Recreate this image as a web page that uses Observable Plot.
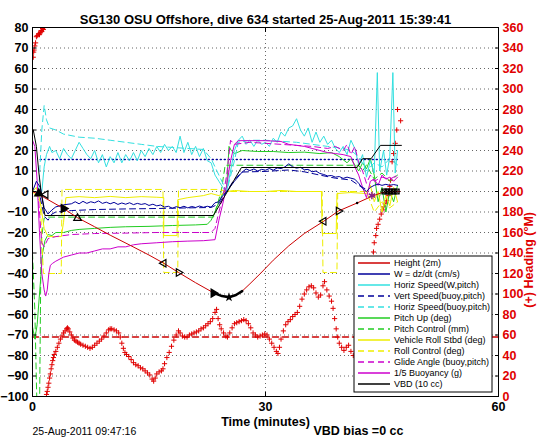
<!DOCTYPE html>
<html>
<head>
<meta charset="utf-8">
<script src="https://cdn.jsdelivr.net/npm/d3@7"></script>
<script src="https://cdn.jsdelivr.net/npm/@observablehq/plot@0.6"></script>
<style>
  html, body { margin: 0; padding: 0; background: white; }
  #chart { width: 546px; height: 442px; }
</style>
</head>
<body>
<div id="chart"></div>
<script>
// ---------- tick labels ----------
const leftTicks = [-100,-90,-80,-70,-60,-50,-40,-30,-20,-10,0,10,20,30,40,50,60,70,80];
const headingTicks = [0,20,40,60,80,100,120,140,160,180,200,220,240,260,280,300,320,340,360];
const timeTicks = [0,30,60];

// ---------- text ----------
const titleText = "SG130 OSU Offshore, dive 634 started 25-Aug-2011 15:39:41";
const xLabel = "Time (minutes)";
const yRightLabel = "(+) Heading (°M)";
const dateText = "25-Aug-2011 09:47:16";
const vbdBiasText = "VBD bias =0 cc";

// ---------- series [time (min), value] ----------
const height = [[0,0],[0.6,-1],[2,-4],[4,-8.3],[5.8,-12.8],[8,-17.2],[10,-21.3],[12.6,-26.3],[15,-31],[16.9,-35],[18.8,-39.5],[21,-44.5],[23.3,-49.4],[24.4,-51],[25.3,-51.6],[26.2,-50.5],[27,-48.6],[28,-45],[29.4,-39.8],[31,-33.5],[33,-26.5],[35,-20.5],[37.5,-14.5],[39.4,-9.5],[41.8,-5.6],[43.6,-2.5],[45,-0.5],[47.3,0]];

const wSpeed = [[0,0],[0.5,5],[1,2],[1.5,-8],[2,-11],[2.5,-9],[3,-7.5],[4,-6.5],[5,-6],[5.5,-5],[6,-6],[6.5,-4.8],[7,-5.8],[7.5,-5],[8,-5.5],[8.5,-4.6],[9,-5.8],[9.5,-5.2],[10,-6],[10.5,-5.3],[11,-6.3],[11.5,-5.6],[12,-6.2],[12.5,-5.5],[13,-6.4],[13.5,-5.8],[14,-6.3],[14.5,-5.9],[15,-6.8],[15.5,-6.2],[16,-7],[16.5,-6.6],[17,-7.6],[17.5,-7.2],[18,-8.2],[18.5,-7.4],[19,-7.9],[19.5,-7.2],[20,-8],[20.5,-7.3],[21,-7.8],[21.5,-7.1],[22,-7.7],[22.5,-7.2],[23,-7.6],[23.5,-5.5],[24,-5],[24.5,-2],[25,0],[26,5],[27,9.5],[27.5,11],[28,10.2],[28.5,11],[29,10],[29.5,10.8],[30,10.4],[30.5,11.2],[31,10.4],[31.5,11.5],[32,11.2],[32.5,12],[33,13.5],[33.5,12],[34,11.4],[34.5,11.8],[35,10.6],[35.5,10.8],[36,9.6],[36.5,10],[37,8.8],[37.5,8.3],[38,7.6],[38.5,7.8],[39,7],[39.5,7.3],[40,6.4],[40.5,7],[41,6.5],[41.5,6],[42,4],[42.5,1.5],[43,0],[43.5,2],[44,3],[44.5,3.6],[45,3],[45.5,3.5],[46,3],[46.5,3.4],[47,3]];

const vertSpeed = [[1,-3],[1.5,-12],[2,-14],[2.5,-11],[3,-10],[5,-9.3],[8,-8.8],[12,-8.5],[16,-8.3],[20,-8],[23,-7.8],[24,-6],[25,0],[26,6],[27,9.5],[30,9.8],[33,10.5],[35,9.6],[37,8],[39,6.5],[41,5.6],[42,3],[43,1]];

const horizSpeedW = [[1.2,0],[1.5,12],[1.8,18],[2.2,22],[2.5,19],[3,20],[3.5,16],[4,21],[4.5,18],[5,16],[5.5,20],[6,24],[6.5,21],[7,18],[7.5,16],[8,20],[8.5,14],[9,18],[9.5,12],[10,17],[10.5,14],[11,19],[11.5,14],[12,18],[12.5,15],[13,19],[13.5,15],[14,20],[14.5,17],[15,21],[15.5,18],[16,22],[16.5,19],[17,23],[17.5,20],[18,22],[18.5,19],[19,27],[19.5,19],[20,24],[20.5,18],[21,22],[21.5,17],[22,21],[22.5,15],[23,14],[23.5,8],[24,5],[24.5,2],[25,0],[25.5,10],[26,20],[26.5,25],[27,27],[27.5,23],[28,25],[28.5,22],[29,25],[29.5,23],[30,24],[30.5,22],[31,26],[31.5,24],[32,29],[32.5,27],[33,31],[33.5,32],[34,35.5],[34.5,30],[35,27],[35.5,31],[36,24],[36.5,29],[37,24],[37.5,27],[38,23],[38.5,25],[39,21],[39.5,19],[40,22],[40.5,18],[41,25],[41.5,21],[42,13],[42.5,18],[43,7],[43.5,15],[44,9],[44.4,58],[44.7,10],[45.2,20],[45.6,8],[46,17],[46.4,58],[46.7,9],[47,20]];

const horizSpeedBuoy = [[0.8,0],[1.2,30],[1.5,42],[1.8,35],[2.2,31],[3,30],[4,28],[6,26.5],[8,26],[10,25],[12,24],[14,23],[16,22],[18,21.5],[20,21],[22,20.5],[23,16],[24,8],[25,0],[26,15],[26.5,24],[28,25],[30,25],[32,24.5],[34,24],[36,23],[38,22],[40,21],[41,20],[42,17],[43,10],[44,14],[45,12],[46,16],[47,13]];

const pitchUp = [[0,-66],[0.3,-72],[0.6,-65],[1,-45],[1.3,-30],[1.6,-24],[2,-21],[2.5,-21.5],[3,-20],[4,-20],[5,-19],[6,-18.5],[8,-18],[10,-17.5],[12,-17.2],[15,-17],[18,-16.6],[21,-16.3],[22.5,-16],[23,-14],[23.5,-10],[24,-5],[24.5,-1],[25,2],[25.3,22],[25.6,20],[26,18.5],[27,20],[29,19.5],[31,19.5],[33,19],[35,19.2],[37,18.5],[38.5,19],[39.5,17],[40.5,14],[41,16],[42,10],[42.5,14],[43,11],[43.5,16],[44,8],[44.5,-5],[45,2],[45.5,-10],[46,0],[46.5,-5],[47,3]];

const pitchControl = [[0,-30],[0.3,-58],[0.6,-110],[0.9,-110],[1.1,-25],[1.5,-13],[2,-12.5],[23.3,-12.5],[24.3,0],[24.8,12.8],[42,12.8],[42.5,10],[43,13],[44,6],[45,9],[46,5],[47,8]];

const vehicleRoll = [[0,0],[0.5,2],[1,-5],[1.5,-18],[2,-22],[3.7,-22],[4,-15],[4.3,-3],[6,-2.5],[8,-3],[10,-2.4],[12,-3],[14,-2.5],[16,-2.8],[16.9,-3],[16.9,-21.5],[18.6,-21.5],[18.7,-4],[20,-3],[22,-2],[23,-1],[24,-2],[25,0],[26,0.5],[28,0],[30,0],[32,0.5],[34,0],[36,0],[37.2,0],[37.3,-20.5],[39.1,-20.5],[39.2,-1],[41,-0.5],[43,-1],[43.5,3],[44,-5],[44.5,0],[45,-10],[45.5,-2],[46,-7],[46.5,2],[47,-5]];

const rollControl = [[0,0],[1,-5],[1.4,-40],[3.7,-40],[3.8,1],[16.8,1],[16.9,-39.5],[18.7,-39.5],[18.8,1],[24,1],[25,0],[37.3,0],[37.4,-39.5],[39.2,-39.5],[39.3,0],[43,0],[43.5,-5],[44,-10],[45,-5],[46,-8],[47,-5]];

const glideAngle = [[0.8,-5],[1.2,-25],[1.5,-27],[2,-23],[3,-22],[5,-21],[8,-20.5],[12,-20.3],[16,-20],[20,-20],[23,-20],[23.5,-18],[24,-10],[24.5,-3],[25,8],[25.5,25],[26,23],[28,24],[30,23.5],[32,23],[34,22.5],[36,22],[38,21],[39,22],[40,20],[40.5,23],[41,18],[41.5,22],[42,14],[42.5,10],[43,4],[43.5,8],[44,5],[45,7],[46,6],[47,8]];

const buoyancy = [[0,25],[0.3,22],[0.6,5],[0.9,-20],[1.2,-40],[1.5,-48],[1.7,-51],[1.9,-48],[2.1,-40],[2.3,-36],[2.6,-35],[3,-34],[4,-32],[5,-31],[6,-30],[7,-30],[8,-29],[9,-28],[10,-28],[11,-27],[12,-27],[13,-26],[14,-25.5],[16,-25],[18,-24.5],[20,-24.2],[22,-24],[23.5,-23.5],[24,-14],[24.5,-6],[25,3],[25.5,15],[26,23],[26.5,24.8],[28,24.8],[30,24.8],[32,24.4],[33,23],[34,22.5],[35,22],[36,21],[37,20],[38,19],[39,18.5],[40,18],[41,17],[41.5,12],[42,8],[42.5,2],[43,-3],[43.5,5],[44,6],[44.5,3],[45,8],[45.5,6],[46,7],[46.5,5],[47,7]];

const vbd = [[0.1,30],[0.5,22],[0.8,10],[1.1,0],[1.6,-11.7],[23.3,-11.7],[26.9,11.7],[41.8,11.7],[42.5,16],[43.6,16],[44.8,22.5],[47.5,22.5]];

const stallLine = [[1,15.6],[47,15.6]];
const headingTarget = [[0,58],[60,58]];

// heading (degrees magnetic) on right axis
const heading = [[0.1,331],[0.15,336],[0.2,338],[0.3,342],[0.4,345],[0.5,351],[0.6,352],[0.8,354],[0.9,353],[1.0,355],[1.1,357],[1.2,356],[1.3,359],[1.4,358],[1.5,360],
[1.8,2],[1.9,5],[2.0,9],[2.1,13],[2.2,18],[2.3,22],[2.4,27],[2.5,31],[2.6,35],[2.7,38],[2.8,41],[3.0,44],[3.2,48],[3.4,52],[3.6,56],[3.8,59],[4.0,62],[4.2,64],[4.4,66],[4.5,67],[4.6,66],[4.8,63],[5.0,60],[5.2,57],[5.4,55],[5.6,54],[5.8,53],[6.0,52],[6.2,51],[6.5,50],[6.8,49],[7.1,48],[7.4,47],[7.7,48],[8.0,50],[8.3,52],[8.6,54],[8.9,56],[9.2,59],[9.5,62],[9.8,65],[10.0,66],[10.2,66],[10.5,65],[10.8,64],[11.1,62],[11.3,58],[11.5,52],[11.7,47],[11.9,43],[12.1,41],[12.4,39],[12.7,36],[13.0,33],[13.3,31],[13.6,30],[13.9,28],[14.2,27],[14.5,25],[14.8,23],[15.1,21],[15.4,17],[15.6,15],[15.8,18],[16.0,22],[16.3,24],[16.6,25],[16.8,27],[17.0,32],[17.3,38],[17.6,43],[17.9,49],[18.2,55],[18.5,60],[18.8,64],[19.0,62],[19.3,59],[19.6,58],[19.9,58],[20.2,60],[20.5,61],[20.8,62],[21.1,63],[21.4,64],[21.7,66],[22.0,67],[22.3,69],[22.6,71],[22.9,73],[23.2,76],[23.5,82],[23.7,85],[23.9,76],[24.1,70],[24.3,66],[24.6,62],[24.9,59],[25.1,58],[25.4,62],[25.7,67],[26.0,71],[26.3,72],[26.6,73],[26.9,74],[27.2,75],[27.5,74],[27.8,71],[28.1,67],[28.4,62],[28.7,60],[29.0,58],[29.3,59],[29.6,60],[29.9,61],[30.2,60],[30.5,56],[30.8,52],[31.1,48],[31.4,44],[31.6,42],[31.8,48],[32.0,56],[32.3,64],[32.6,70],[32.9,73],[33.2,75],[33.5,78],[33.8,80],[34.1,82],[34.4,88],[34.7,95],[35.0,100],[35.3,104],[35.6,107],[35.9,108],[36.2,106],[36.5,101],[36.8,97],[37.1,99],[37.4,108],[37.6,112],[37.9,104],[38.2,98],[38.5,93],[38.7,86],[38.9,76],[39.1,66],[39.3,58],[39.5,52],[39.8,48],[40.1,45],[40.4,48],[40.7,50],[41.0,44],[41.3,40],
[42.0,60],[42.5,80],[43.0,100],[43.5,125],[43.9,141],[44.0,150],[44.2,157],[44.3,164],[44.5,168],[44.7,173],[44.9,178],[45.1,182],[45.2,185],[45.4,188],[45.6,191],[45.8,196],[46.0,205],[46.1,211],[46.3,229],[46.5,237],[46.7,247],[46.9,260],[47.0,280],[47.4,269]];

// profile markers on the height trace
const markersFilled = [[0.8,-1,0],[4.0,-8.3,90],[23.3,-49.6,90]];
const markersHollow = [[1.7,-1.5,-90],[5.8,-13,0],[16.9,-35,-90],[18.8,-39.5,90],[37.5,-14.5,-90],[39.4,-9.5,90]];
const bottomStar = [[25.3,-51.6]];
const apogeeStar = [[43.7,-2]];
const surfaceMarks = [[45.3,0],[45.7,0],[46.1,0],[46.5,0],[46.9,0]];
const thickSegments = [[23.2,27.0],[40.8,41.8]];

// ---------- legend ----------
const legendLabels = ["Height (2m)","W = dz/dt (cm/s)","Horiz Speed(W,pitch)","Vert Speed(buoy,pitch)","Horiz Speed(buoy,pitch)","Pitch Up (deg)","Pitch Control (mm)","Vehicle Roll Stbd (deg)","Roll Control (deg)","Glide Angle (buoy,pitch)","1/5 Buoyancy (g)","VBD (10 cc)"];

const C = {
  red: "#cc0000", dot: "#e00000", blue: "#00009a", cyan: "#33e0e0", green: "#22cc22",
  yellow: "#eeee00", magenta: "#cc00cc", black: "#000000"
};
const legendColors = [C.red, C.blue, C.cyan, C.blue, C.cyan, C.green, C.green, C.yellow, C.yellow, C.magenta, C.magenta, C.black];
const legendDashed = [false,false,false,true,true,false,true,false,true,true,false,false];
const DASH = "6,4";

const hy = d => d[1] / 2 - 100;   // heading -> left-axis coordinate
const X = d => d[0], Y = d => d[1];

function ln(data, color, dashed) {
  return Plot.line(data, {x: X, y: Y, stroke: color, strokeWidth: 1, strokeDasharray: dashed ? DASH : null, clip: true, curve: "linear"});
}

const plot = Plot.plot({
  width: 546, height: 442,
  marginLeft: 32, marginRight: 48, marginTop: 27, marginBottom: 46,
  x: {domain: [0, 60]},
  y: {domain: [-100, 80]},
  style: {fontFamily: "'Liberation Sans', Arial, Helvetica, sans-serif", fontSize: "12.5px", fontWeight: "bold", background: "white", overflow: "visible"},
  marks: [
    Plot.gridY(leftTicks.filter(v => v > -100 && v < 80), {stroke: "#666", strokeOpacity: 1, strokeDasharray: "1,3"}),
    Plot.gridX([30], {stroke: "#666", strokeOpacity: 1, strokeDasharray: "1,3"}),
    Plot.line(stallLine, {x: X, y: Y, stroke: C.blue, strokeDasharray: "1,3"}),
    Plot.line(headingTarget, {x: X, y: hy, stroke: C.red, strokeDasharray: DASH}),
    Plot.dot(heading, {x: X, y: hy, symbol: "plus", r: 1.8, stroke: C.dot, strokeWidth: 1, clip: true}),
    ln(pitchControl, C.green, true),
    ln(pitchUp, C.green, false),
    ln(rollControl, C.yellow, true),
    ln(vehicleRoll, C.yellow, false),
    ln(horizSpeedBuoy, C.cyan, true),
    ln(horizSpeedW, C.cyan, false),
    ln(glideAngle, C.magenta, true),
    ln(buoyancy, C.magenta, false),
    ln(vertSpeed, C.blue, true),
    ln(wSpeed, C.blue, false),
    ln(vbd, C.black, false),
    ln(height, C.red, false),
    ...thickSegments.map(([a, b]) => Plot.line(height.filter(d => d[0] >= a && d[0] <= b), {x: X, y: Y, stroke: "black", strokeWidth: 2.5})),
    Plot.dot(markersFilled, {x: X, y: Y, rotate: d => d[2], symbol: "triangle", r: 2.8, fill: "black", stroke: "black"}),
    Plot.dot(markersHollow, {x: X, y: Y, rotate: d => d[2], symbol: "triangle", r: 2.8, fill: "none", stroke: "black", strokeWidth: 1.2}),
    Plot.dot(bottomStar, {x: X, y: Y, symbol: "star", r: 3, fill: "black"}),
    Plot.dot(apogeeStar, {x: X, y: Y, symbol: "asterisk", r: 3.5, stroke: "#882288", strokeWidth: 1.5}),
    Plot.dot(surfaceMarks, {x: X, y: Y, symbol: "square", r: 2.6, fill: "none", stroke: "black", strokeWidth: 1.3}),
    Plot.dot(surfaceMarks, {x: X, y: Y, symbol: "times", r: 2, stroke: "black", strokeWidth: 1}),
    Plot.frame({stroke: "black"}),
    Plot.axisY(leftTicks, {anchor: "left", tickSize: -4, tickPadding: 8, label: null, fill: "black"}),
    Plot.axisY(headingTicks.map(h => h / 2 - 100), {anchor: "right", tickSize: -4, tickPadding: 8, label: null, tickFormat: v => String(Math.round((v + 100) * 2)), fill: "#e00000", stroke: "black"}),
    Plot.axisX(timeTicks, {anchor: "bottom", tickSize: -4, tickPadding: 10, label: null}),
    Plot.axisX(timeTicks, {anchor: "top", tickSize: -4, tickFormat: () => "", label: null}),
    Plot.text([titleText], {frameAnchor: "top", dy: -13, text: d => d, fontSize: 13, fontWeight: "bold"}),
    Plot.text([xLabel], {frameAnchor: "bottom", dy: 29, text: d => d, fontSize: 12.5, fontWeight: "bold"}),
    Plot.text([yRightLabel], {frameAnchor: "right", dx: 30, rotate: -90, text: d => d, fontSize: 12.5, fontWeight: "bold", fill: "#e00000"}),
    Plot.text([dateText], {frameAnchor: "bottom-left", dy: 38, textAnchor: "start", text: d => d, fontSize: 10.5, fontWeight: "normal"}),
    Plot.text([vbdBiasText], {frameAnchor: "bottom", dx: 48, dy: 38, textAnchor: "start", text: d => d, fontSize: 12.5, fontWeight: "bold"})
  ]
});

// legend box drawn into the same SVG
const svg = d3.select(plot);
const L = {x: 354, y: 256, w: 138, h: 136, row: 11, top: 7, lx1: 4, lx2: 36, tx: 40};
const g = svg.append("g").attr("font-family", "'Liberation Sans', Arial, sans-serif").attr("font-size", 9).attr("font-weight", "normal").attr("text-anchor", "start");
g.append("rect").attr("x", L.x).attr("y", L.y).attr("width", L.w).attr("height", L.h).attr("fill", "white").attr("stroke", "black").attr("stroke-width", 1);
legendLabels.forEach((lab, i) => {
  const yy = L.y + L.top + i * L.row;
  g.append("line").attr("x1", L.x + L.lx1).attr("x2", L.x + L.lx2).attr("y1", yy).attr("y2", yy)
    .attr("stroke", legendColors[i]).attr("stroke-width", 1.5).attr("stroke-dasharray", legendDashed[i] ? "6,4" : null);
  g.append("text").attr("x", L.x + L.tx).attr("y", yy).attr("dy", "0.35em").attr("text-anchor", "start").attr("fill", "black").text(lab);
});

document.getElementById("chart").appendChild(plot);
</script>
</body>
</html>
